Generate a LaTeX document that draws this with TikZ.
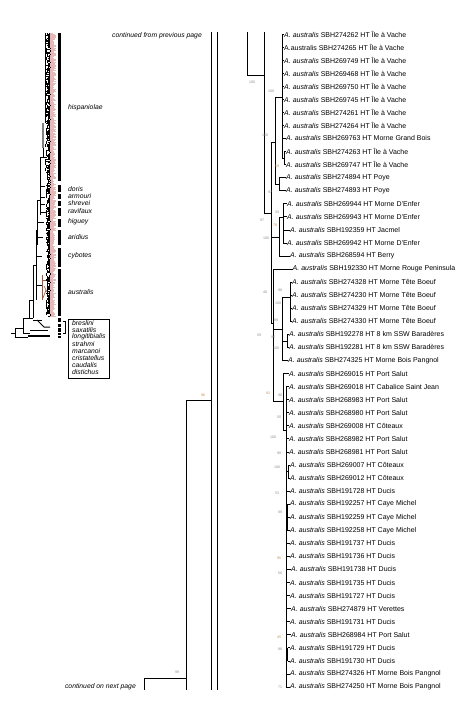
\documentclass[tikz,border=0pt]{standalone}
\usepackage{fontspec}
\setmainfont{Liberation Sans}
\definecolor{pinktip}{RGB}{232,185,185}
\definecolor{bsorange}{RGB}{200,140,80}
\definecolor{brownbr}{RGB}{160,85,60}
\begin{document}
\begin{tikzpicture}[x=1pt,y=-1pt,
  br/.style={line width=0.75pt},
  thb/.style={line width=0.5pt},
  leaf/.style={anchor=west, inner sep=0pt, font=\fontsize{7}{8}\selectfont},
  bs/.style={inner sep=0pt, font=\fontsize{3.6}{4}\selectfont, text=black!45},
  bso/.style={bs, text=bsorange},
  clade/.style={anchor=west, inner sep=0pt, font=\fontsize{6.8}{7}\selectfont\itshape},
  cont/.style={anchor=east, inner sep=0pt, font=\fontsize{6.8}{7}\selectfont\itshape},
  bar/.style={fill=black, draw=none}]
\useasboundingbox (0,0) rectangle (458,708);

% ---------------- thumbnail tree (left) ----------------
\pgfmathsetseed{7}
\foreach \i in {33,...,316}{
  \pgfmathsetmacro\xa{46+4*rnd}
  \pgfmathsetmacro\xb{53+3.5*rnd}
  \draw[pinktip, line width=0.45pt] (50.2,\i) -- (\xb,\i);
  \draw[line width=0.3pt] (\xa,\i) -- (50.3,\i);
}
\foreach \i in {33,36,...,314}{
  \pgfmathsetmacro\xa{45.5+3*rnd}
  \pgfmathsetmacro\ya{\i+3}
  \draw[line width=0.5pt] (\xa,\i) -- (\xa,\ya);
}
\draw[thb] (45,33) -- (45,123);
\fill[gray] (42.3,123) rectangle (44.3,148);
\draw[thb] (43,148) -- (43,157);
\draw[thb] (40,157) -- (47,157);
\draw[thb] (40,157) -- (40,215);
\draw[thb] (40,186) -- (45,186);
\draw[thb] (40,197) -- (45,197);
\draw[thb] (40,204) -- (45,204);
\draw[thb] (40,212) -- (46,212);
\draw[thb] (37.5,200) -- (40,200);
\draw[thb] (37.5,200) -- (37.5,245);
\draw[thb] (37.5,222) -- (44,222);
\draw[thb] (37.5,237) -- (43,237);
\draw[thb] (36,230) -- (37.5,230);
\draw[thb] (36,230) -- (36,300);
\draw[thb] (36,256) -- (42,256);
\draw[thb] (36,285) -- (42,285);
\draw[brownbr, line width=0.6pt] (42,275) -- (42,300);
\draw[brownbr, line width=0.6pt] (42,280) -- (46,280);
\draw[brownbr, line width=0.6pt] (44,286) -- (47,292);
\draw[brownbr, line width=0.6pt] (43,298) -- (46,290);
\draw[thb] (33,265) -- (36,265);
\draw[thb] (33,265) -- (33,318);
\draw[thb] (29,300) -- (29,318);
\draw[thb] (29,300) -- (33,300);
\draw[thb] (23,318) -- (33,318);
\draw[thb] (23,318) -- (23,333);
\draw[thb] (33,320) -- (42,320);
\draw[line width=1pt] (37,320) -- (44,327) -- (50,327);
\draw[thb] (30,330) -- (48,330);
\draw[thb] (23,333) -- (30,333);
\draw[line width=1.4pt] (28,336) -- (50,336);
\draw[thb] (15,328) -- (23,328);
\draw[thb] (15,328) -- (15,337);
\draw[thb] (15,337) -- (28,337);
\draw[thb] (11,333) -- (15,333);

% clade bars
\foreach \a/\b in {33/181,185/192,194/199,201/206,208/216,219/227,230/245,248/267,269/316,318/322,324/327,328/332,333/335,336/338}{
  \fill[bar] (58,\a) rectangle (61,\b);
}
\node[clade] (hisp) at (68,108) {hispaniolae};
\node[clade] (dor) at (68,189) {doris};
\node[clade] (arm) at (68,196) {armouri};
\node[clade] (shr) at (68,203) {shrevei};
\node[clade] (rav) at (68,211) {ravifaux};
\node[clade] (hig) at (68,222) {higuey};
\node[clade] (ari) at (68,237) {aridius};
\node[clade] (cyb) at (68,256) {cybotes};
\node[clade] (aus) at (68,292) {australis};
\draw[line width=0.5pt] (62.5,321) -- (65,321) -- (65,333) -- (62.5,333);
\draw[line width=0.5pt] (68.3,319.3) rectangle (109.3,378.3);
\foreach \n/\lab [count=\k from 0] in {bre/breslini,sax/saxatilis,lon/longitibialis,str/strahmi,mar/marcanoi,cri/cristatellus,cau/caudalis,dis/distichus}{
  \node[clade] (\n) at (72,323+7*\k) {\lab};
}

% ---------------- continuation lines ----------------
\node[cont] (cfp) at (202,36) {continued from previous page};
\node[cont] (cnp) at (136,687) {continued on next page};
\coordinate (a1) at (211,32); \coordinate (a2) at (211,690);
\coordinate (b1) at (217,32); \coordinate (b2) at (217,690);
\draw[br] (a1) -- (a2);
\draw[br] (b1) -- (b2);
\coordinate (n96) at (186,400);
\draw[br] (n96) -- (211,400);
\draw[br] (n96) -- (186,690);
\coordinate (n99) at (144,678);
\draw[br] (n99) -- (186,678);
\draw[br] (n99) -- (144,690);
\node[bso] (l96) at (203,395) {96};
\node[bs] (l99) at (177,672) {99};

% ---------------- leaves ----------------
\foreach \r/\sx/\tx/\lab in {
 1/282/284/{\textit{A. australis} SBH274262 HT Île à Vache},
 2/282/284/{A.australis SBH274265 HT Île à Vache},
 3/282/284/{\textit{A. australis} SBH269749 HT Île à Vache},
 4/282/284/{\textit{A. australis} SBH269468 HT Île à Vache},
 5/282/284/{\textit{A. australis} SBH269750 HT Île à Vache},
 6/282/284/{\textit{A. australis} SBH269745 HT Île à Vache},
 7/282/284/{\textit{A. australis} SBH274261 HT Île à Vache},
 8/282/284/{\textit{A. australis} SBH274264 HT Île à Vache},
 9/282/286/{\textit{A. australis} SBH269763 HT Morne Grand Bois},
 10/284/286/{\textit{A. australis} SBH274263 HT Île à Vache},
 11/284/286/{\textit{A. australis} SBH269747 HT Île à Vache},
 12/279/286/{\textit{A. australis} SBH274894 HT Poye},
 13/279/286/{\textit{A. australis} SBH274893 HT Poye},
 14/283/287/{\textit{A. australis} SBH269944 HT Morne D'Enfer},
 15/283/287/{\textit{A. australis} SBH269943 HT Morne D'Enfer},
 16/283/290/{\textit{A. australis} SBH192359 HT Jacmel},
 17/283/287/{\textit{A. australis} SBH269942 HT Morne D'Enfer},
 18/279/290/{\textit{A. australis} SBH268594 HT Berry},
 19/273/292.5/{\textit{A. australis} SBH192330 HT Morne Rouge Peninsula},
 20/290/292/{\textit{A. australis} SBH274328 HT Morne Tête Boeuf},
 21/290/292/{\textit{A. australis} SBH274230 HT Morne Tête Boeuf},
 22/290/292/{\textit{A. australis} SBH274329 HT Morne Tête Boeuf},
 23/290/292/{\textit{A. australis} SBH274330 HT Morne Tête Boeuf},
 24/287/289/{\textit{A. australis} SBH192278 HT 8 km SSW Baradères},
 25/287/289/{\textit{A. australis} SBH192281 HT 8 km SSW Baradères},
 26/282/288/{\textit{A. australis} SBH274325 HT Morne Bois Pangnol},
 27/283/289/{\textit{A. australis} SBH269015 HT Port Salut},
 28/286/289/{\textit{A. australis} SBH269018 HT Cabalice Saint Jean},
 29/286/289/{\textit{A. australis} SBH268983 HT Port Salut},
 30/286/289/{\textit{A. australis} SBH268980 HT Port Salut},
 31/286/289/{\textit{A. australis} SBH269008 HT Côteaux},
 32/286/289/{\textit{A. australis} SBH268982 HT Port Salut},
 33/286/289/{\textit{A. australis} SBH268981 HT Port Salut},
 34/288/290/{\textit{A. australis} SBH269007 HT Côteaux},
 35/288/290/{\textit{A. australis} SBH269012 HT Côteaux},
 36/286/290/{\textit{A. australis} SBH191728 HT Ducis},
 37/287/290/{\textit{A. australis} SBH192257 HT Caye Michel},
 38/287/290/{\textit{A. australis} SBH192259 HT Caye Michel},
 39/287/290/{\textit{A. australis} SBH192258 HT Caye Michel},
 40/286/290/{\textit{A. australis} SBH191737 HT Ducis},
 41/286/290/{\textit{A. australis} SBH191736 HT Ducis},
 42/286/291/{\textit{A. australis} SBH191738 HT Ducis},
 43/286/290/{\textit{A. australis} SBH191735 HT Ducis},
 44/286/290/{\textit{A. australis} SBH191727 HT Ducis},
 45/286/291/{\textit{A. australis} SBH274879 HT Verettes},
 46/286/290/{\textit{A. australis} SBH191731 HT Ducis},
 47/286/291/{\textit{A. australis} SBH268984 HT Port Salut},
 48/287.5/290/{\textit{A. australis} SBH191729 HT Ducis},
 49/287.5/290/{\textit{A. australis} SBH191730 HT Ducis},
 50/286/290/{\textit{A. australis} SBH274326 HT Morne Bois Pangnol},
 51/286/290/{\textit{A. australis} SBH274250 HT Morne Bois Pangnol}}{
  \pgfmathsetmacro\yy{34+13.06*(\r-1)}
  \coordinate (s\r) at (\sx,\yy);
  \node[leaf] (t\r) at (\tx,\yy) {\lab};
  \draw[br] (s\r) -- (t\r.west);
}

% ---------------- internal branches ----------------
\coordinate (nA0) at (247,75);
\draw[br] (247,32) -- (nA0) -- (264,75);
\coordinate (nX) at (264,213);
\draw[br] (264,32) -- (nX);
\draw[br] (282,34) -- (282,158);
\draw[br] (284,151.5) -- (284,164.6);
\draw[br] (282,158) -- (284,158);
\coordinate (nB) at (275,142);
\draw[br] (275,97) -- (282,97);
\draw[br] (279,177.7) -- (279,190.7);
\draw[br] (275,184.2) -- (279,184.2);
\draw[br] (275,97) -- (275,184.2);
\draw[br] (283,203.8) -- (283,243);
\draw[br] (279,217) -- (283,217);
\draw[br] (279,217) -- (279,256);
\coordinate (nC) at (271,213);
\draw[br] (nX) -- (nC);
\draw[br] (271,142) -- (271,323);
\draw[br] (271,142) -- (nB);
\draw[br] (271,237) -- (279,237);
\draw[br] (271,323) -- (273,323);
\draw[br] (273,269.1) -- (273,401);
\draw[br] (273,329) -- (282,329);
\draw[br] (282,297) -- (282,360.5);
\draw[br] (290,282.1) -- (290,321.3);
\draw[br] (282,297) -- (290,297);
\draw[br] (287,334.4) -- (287,347.4);
\draw[br] (282,341) -- (287,341);
\draw[br] (273,401) -- (283,401);
\draw[br] (283,373.6) -- (283,430);
\draw[br] (283,430) -- (286,430);
\draw[br] (286,386.6) -- (286,687);
\draw[br] (288,465) -- (288,478);
\draw[br] (286,471.5) -- (288,471.5);
\draw[br] (287,504.2) -- (287,530.3);
\draw[br] (286,517) -- (287,517);
\draw[br] (287.5,647.8) -- (287.5,660.9);
\draw[br] (286,654) -- (287.5,654);

% ---------------- bootstrap labels ----------------
\node[bs] (b1) at (252,82) {100};
\node[bs] (b2) at (271,91) {100};
\node[bs] (b3) at (265,135) {100};
\node[bso] (b4) at (277,166) {59};
\node[bs] (b5) at (270,192) {97};
\node[bs] (b6) at (277,212) {33};
\node[bs] (b7) at (262,220) {97};
\node[bso] (b8) at (275,225) {79};
\node[bs] (b9) at (266,238) {100};
\node[bs] (b10) at (265,292) {48};
\node[bs] (b11) at (280,290) {98};
\node[bs] (b12) at (278,303) {100};
\node[bs] (b13) at (276,320) {99};
\node[bs] (b14) at (259,335) {59};
\node[bs] (b15) at (273,337) {96};
\node[bs] (b16) at (276,348) {100};
\node[bso] (b17) at (268,393) {91};
\node[bs] (b18) at (280,395) {90};
\node[bs] (b19) at (279,417) {50};
\node[bs] (b20) at (273,437) {100};
\node[bs] (b21) at (279,453) {90};
\node[bs] (b22) at (277,467) {100};
\node[bs] (b23) at (277,493) {53};
\node[bs] (b24) at (280,512) {89};
\node[bso] (b25) at (279,558) {95};
\node[bs] (b26) at (280,573) {50};
\node[bso] (b27) at (279,637) {45};
\node[bs] (b28) at (280,649) {98};
\node[bs] (b29) at (280,687) {71};
\end{tikzpicture}
\end{document}
